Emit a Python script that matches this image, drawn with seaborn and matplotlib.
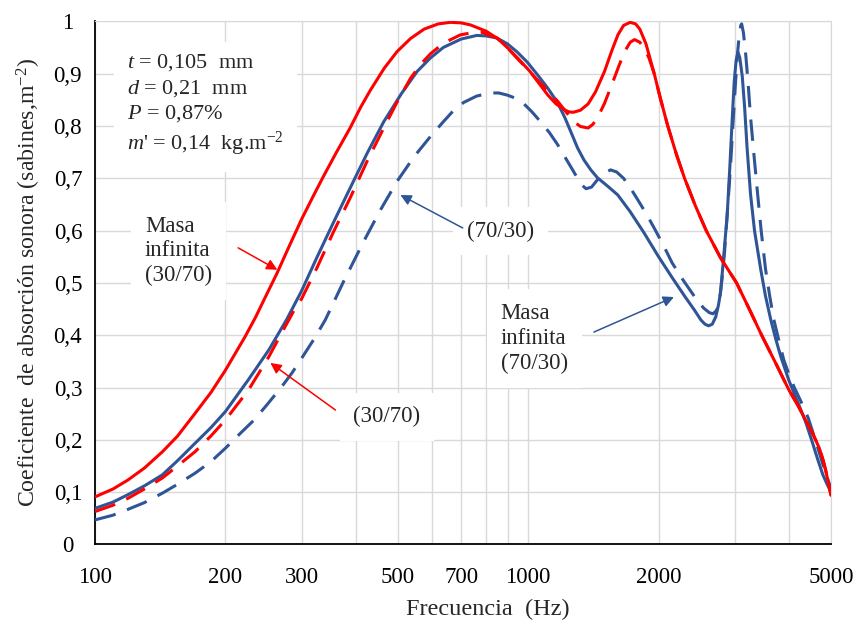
import numpy as np
import pandas as pd
import matplotlib
matplotlib.use("Agg")
import matplotlib.pyplot as plt
import seaborn as sns

# ---------------- data ----------------
f_red_inf = [100, 110, 119, 130, 143, 155, 170, 185, 200, 222, 235, 247, 263, 280, 300, 320,
             338, 360, 388, 410, 432, 465, 498, 535, 575, 620, 662, 700, 736, 800, 850, 897,
             950, 1010, 1060, 1110, 1160, 1212, 1240, 1270, 1320, 1375, 1430, 1500, 1560,
             1611, 1660, 1720, 1770, 1810, 1870, 1954, 2020, 2100, 2200, 2296, 2430, 2576,
             2780, 3027, 3230, 3459, 3730, 4000, 4200, 4380, 4550, 4700, 4800, 4870, 4940, 5000]
a_red_inf = [0.091, 0.106, 0.123, 0.146, 0.177, 0.207, 0.250, 0.290, 0.333, 0.397, 0.435,
             0.472, 0.518, 0.568, 0.622, 0.668, 0.706, 0.748, 0.796, 0.835, 0.868, 0.910,
             0.942, 0.967, 0.985, 0.995, 0.998, 0.997, 0.993, 0.981, 0.967, 0.949, 0.928,
             0.904, 0.881, 0.859, 0.842, 0.831, 0.827, 0.826, 0.830, 0.842, 0.865, 0.904,
             0.944, 0.974, 0.992, 0.998, 0.995, 0.985, 0.957, 0.900, 0.852, 0.800, 0.745,
             0.700, 0.648, 0.600, 0.548, 0.500, 0.452, 0.400, 0.346, 0.295, 0.265, 0.236,
             0.210, 0.184, 0.160, 0.139, 0.115, 0.094]

f_red = [100, 110, 119, 130, 143, 155, 170, 185, 200, 226, 252, 270, 287, 300, 325, 355, 388,
         425, 464, 500, 535, 565, 595, 637, 697, 740, 781, 847, 890, 941, 995, 1050, 1110,
         1170, 1225, 1275, 1320, 1375, 1410, 1445, 1500, 1560, 1620, 1670, 1720, 1760, 1810,
         1855, 1900, 1954, 2020, 2100, 2200, 2296, 2430, 2576, 2780, 3027, 3230, 3459, 3730,
         4000, 4200, 4380, 4550, 4700, 4800, 4870, 4940, 5000]
a_red = [0.063, 0.075, 0.088, 0.106, 0.127, 0.150, 0.177, 0.207, 0.238, 0.295, 0.359, 0.405,
         0.445, 0.470, 0.528, 0.597, 0.662, 0.733, 0.796, 0.848, 0.891, 0.918, 0.938, 0.958,
         0.974, 0.978, 0.979, 0.968, 0.952, 0.930, 0.909, 0.888, 0.867, 0.847, 0.826, 0.808,
         0.799, 0.796, 0.803, 0.815, 0.843, 0.879, 0.915, 0.942, 0.960, 0.965, 0.960, 0.948,
         0.930, 0.900, 0.852, 0.800, 0.745, 0.700, 0.648, 0.600, 0.548, 0.500, 0.452, 0.400,
         0.346, 0.295, 0.265, 0.236, 0.210, 0.184, 0.160, 0.139, 0.115, 0.094]

f_blue_inf = [100, 110, 119, 130, 143, 155, 170, 185, 200, 226, 252, 277, 300, 325, 355, 388,
              425, 464, 510, 554, 595, 637, 700, 761, 800, 847, 895, 941, 995, 1050, 1110,
              1170, 1215, 1260, 1300, 1345, 1395, 1445, 1530, 1610, 1720, 1850, 2000, 2150,
              2300, 2420, 2505, 2560, 2610, 2660, 2710, 2750, 2780, 2820, 2850, 2880, 2920,
              2960, 2990, 3020, 3050, 3080, 3120, 3160, 3200, 3260, 3330, 3440, 3530, 3630,
              3730, 3830, 4000, 4210, 4380, 4530, 4650, 4790, 4900, 5000]
a_blue_inf = [0.069, 0.081, 0.095, 0.112, 0.133, 0.160, 0.193, 0.223, 0.254, 0.315, 0.372,
              0.430, 0.485, 0.548, 0.615, 0.681, 0.748, 0.808, 0.862, 0.904, 0.930, 0.950,
              0.966, 0.973, 0.972, 0.968, 0.957, 0.942, 0.922, 0.898, 0.872, 0.844, 0.816,
              0.785, 0.758, 0.735, 0.716, 0.701, 0.684, 0.668, 0.636, 0.596, 0.550, 0.510,
              0.474, 0.448, 0.429, 0.421, 0.418, 0.421, 0.435, 0.458, 0.482, 0.540, 0.585,
              0.630, 0.720, 0.818, 0.885, 0.925, 0.941, 0.930, 0.895, 0.835, 0.760, 0.670,
              0.600, 0.527, 0.475, 0.430, 0.392, 0.359, 0.313, 0.268, 0.232, 0.195, 0.165,
              0.133, 0.115, 0.100]

f_blue = [100, 110, 119, 130, 143, 155, 170, 185, 200, 215, 233, 250, 270, 285, 300, 320, 340,
          375, 417, 455, 498, 545, 595, 637, 670, 710, 760, 816, 855, 894, 935, 978, 1020,
          1068, 1120, 1170, 1215, 1260, 1300, 1330, 1360, 1400, 1445, 1500, 1550, 1600, 1660,
          1720, 1790, 1880, 1965, 2060, 2150, 2280, 2420, 2540, 2620, 2670, 2720, 2760, 2800,
          2840, 2880, 2930, 2970, 3010, 3040, 3070, 3095, 3110, 3140, 3180, 3220, 3260, 3320,
          3380, 3450, 3530, 3610, 3690, 3790, 3890, 4000, 4110, 4270, 4430, 4600, 4770, 4900,
          5000]
a_blue = [0.047, 0.056, 0.067, 0.080, 0.098, 0.115, 0.136, 0.158, 0.184, 0.210, 0.238, 0.268,
          0.302, 0.328, 0.356, 0.392, 0.429, 0.503, 0.579, 0.638, 0.694, 0.741, 0.780, 0.808,
          0.828, 0.845, 0.857, 0.863, 0.863, 0.859, 0.853, 0.842, 0.827, 0.808, 0.787, 0.764,
          0.741, 0.719, 0.700, 0.687, 0.680, 0.683, 0.697, 0.710, 0.716, 0.712, 0.700, 0.682,
          0.659, 0.630, 0.601, 0.569, 0.538, 0.505, 0.474, 0.452, 0.443, 0.441, 0.447, 0.462,
          0.505, 0.559, 0.630, 0.720, 0.805, 0.882, 0.935, 0.973, 0.992, 0.995, 0.978, 0.934,
          0.880, 0.818, 0.745, 0.676, 0.600, 0.527, 0.475, 0.430, 0.390, 0.353, 0.325, 0.301,
          0.272, 0.242, 0.200, 0.158, 0.128, 0.107]

series_names = ["blue_dash", "blue_inf", "red_dash", "red_inf"]
x_ticks = [100, 200, 300, 500, 700, 1000, 2000, 5000]
y_ticks = [0, 0.1, 0.2, 0.3, 0.4, 0.5, 0.6, 0.7, 0.8, 0.9, 1.0]
y_tick_labels = ["0", "0,1", "0,2", "0,3", "0,4", "0,5", "0,6", "0,7", "0,8", "0,9", "1"]

# ---------------- build table ----------------
frames = []
for name, fx, ay in [("blue_dash", f_blue, a_blue), ("blue_inf", f_blue_inf, a_blue_inf),
                     ("red_dash", f_red, a_red), ("red_inf", f_red_inf, a_red_inf)]:
    frames.append(pd.DataFrame({"f": fx, "a": ay, "serie": name}))
df = pd.concat(frames, ignore_index=True)

RED = "#FF0000"
BLUE = "#2F5597"

sns.set_style("white")
plt.rcParams["font.family"] = ["Liberation Serif", "DejaVu Serif"]
plt.rcParams["mathtext.fontset"] = "custom"
plt.rcParams["mathtext.rm"] = "Liberation Serif"
plt.rcParams["mathtext.it"] = "Liberation Serif:italic"
plt.rcParams["mathtext.bf"] = "Liberation Serif:bold"

fig = plt.figure(figsize=(8.55, 6.26), dpi=100)
ax = fig.add_axes([0.1111, 0.1302, 0.8608, 0.8358])

palette = {"blue_dash": BLUE, "blue_inf": BLUE, "red_dash": RED, "red_inf": RED}
dashes = {"blue_dash": (7.0, 4.0), "blue_inf": "", "red_dash": (7.0, 4.0), "red_inf": ""}
sns.lineplot(data=df, x="f", y="a", hue="serie", style="serie", hue_order=series_names,
             style_order=series_names, palette=palette, dashes=dashes, estimator=None,
             sort=False, legend=False, ax=ax, linewidth=2.2, zorder=3)
for ln in ax.get_lines():
    ln.set_solid_joinstyle("round")
    ln.set_dash_joinstyle("round")

ax.set_xscale("log")
ax.set_xlim(100, 5000)
ax.set_ylim(0, 1)

minor_x = [v for v in list(range(100, 1000, 100)) + [1000, 2000, 3000, 4000, 5000] if v not in x_ticks]
ax.set_xticks(x_ticks)
ax.set_xticklabels([str(v) for v in x_ticks])
ax.set_xticks(minor_x, minor=True)
ax.set_xticklabels([], minor=True)
ax.set_yticks(y_ticks)
ax.set_yticklabels(y_tick_labels)
ax.set_yticks(np.arange(0, 1.0001, 0.02), minor=True)

ax.grid(True, which="both", axis="x", color="#d9d9d9", lw=1.0)
ax.grid(True, which="major", axis="y", color="#d9d9d9", lw=1.0)
ax.set_axisbelow(True)

ax.tick_params(axis="both", which="both", direction="in", labelsize=16.5, colors="black",
               top=False, right=False)
ax.tick_params(axis="x", which="major", length=6, width=1, pad=16)
ax.tick_params(axis="x", which="minor", length=6, width=1)
ax.tick_params(axis="y", which="major", length=8, width=1, pad=19.5)
ax.tick_params(axis="y", which="minor", length=6, width=1)
for lab in ax.get_yticklabels():
    lab.set_ha("center")

for s in ["top", "right"]:
    ax.spines[s].set_color("#d9d9d9")
for s in ["left", "bottom"]:
    ax.spines[s].set_color("black")
    ax.spines[s].set_linewidth(1.3)

ax.set_xlabel("Frecuencia  (Hz)", fontsize=17.5)
ax.set_ylabel("Coeficiente  de absorción sonora (sabines,m$^{\\mathregular{-2}}$)", fontsize=17.2)
ax.xaxis.set_label_coords(0.534, -0.103)
ax.yaxis.set_label_coords(-0.071, 0.5)

box = dict(boxstyle="square,pad=0.6", fc="white", ec="none")
ax.text(0.0435, 0.941,
        "$t$ = 0,105  mm\n$d$ = 0,21  mm\n$P$ = 0,87%\n$m$' = 0,14  kg.m$^{\\mathregular{-2}}$",
        transform=ax.transAxes, fontsize=16, va="top", ha="left", linespacing=1.3,
        bbox=box, zorder=1)

# annotations
ax.text(130.5, 0.561, "Masa\ninfinita\n(30/70)", fontsize=16.5, ha="left", va="center",
        linespacing=1.24, bbox=box, zorder=1)
ax.text(395, 0.244, "(30/70)", fontsize=16.5, ha="left", va="center", bbox=box, zorder=1)
ax.text(721, 0.599, "(70/30)", fontsize=16.5, ha="left", va="center", bbox=box, zorder=1)
ax.text(864, 0.394, "Masa\ninfinita\n(70/30)", fontsize=16.5, ha="left", va="center",
        linespacing=1.26, bbox=box, zorder=1)

arrows = [((263.6, 0.525), (214, 0.567), RED),
          ((254, 0.347), (359, 0.257), RED),
          ((507, 0.668), (706, 0.605), BLUE),
          ((2170, 0.473), (1418, 0.406), BLUE)]
for tip, start, col in arrows:
    ax.annotate("", xy=tip, xytext=start,
                arrowprops=dict(arrowstyle="-|>", color=col, lw=1.1, mutation_scale=16,
                                shrinkA=0, shrinkB=0), zorder=4)

fig.savefig("out.png", dpi=100)
